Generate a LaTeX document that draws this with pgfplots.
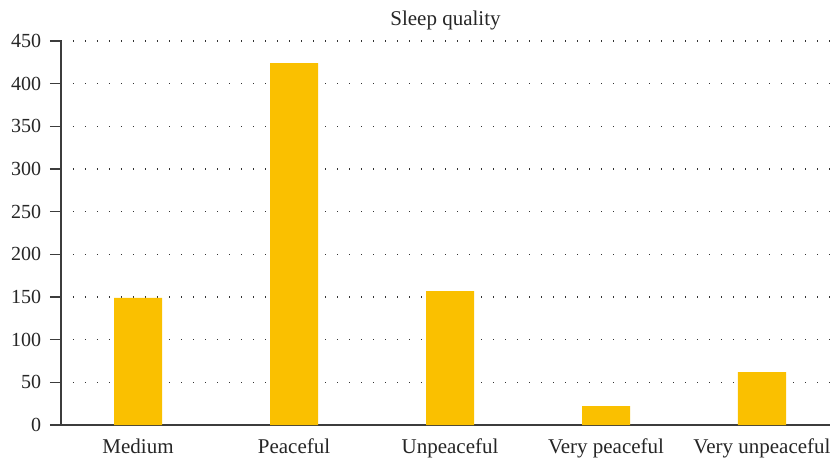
\documentclass[border=0pt]{standalone}
\usepackage{pgfplots}
\pgfplotsset{compat=1.18}
\usepackage{fontspec}
\setmainfont{Liberation Serif}
\definecolor{bargold}{RGB}{250,192,0}
\definecolor{axisgray}{RGB}{60,60,60}
\begin{document}
\fontsize{20bp}{24bp}\selectfont
\begin{tikzpicture}
\path[use as bounding box] (-61bp,-33bp) rectangle (769bp,425bp);
\begin{axis}[
  at={(0,0)}, anchor=south west,
  scale only axis,
  width=769bp, height=384bp,
  xmin=-0.494, xmax=4.436,
  ymin=0, ymax=450,
  ytick={0,50,...,450},
  xtick={0,1,2,3,4},
  xticklabels={Medium,Peaceful,Unpeaceful,Very peaceful,Very unpeaceful},
  major x tick style={draw=none},
  axis x line*=bottom,
  axis y line*=left,
  axis line style={draw=axisgray, line width=1.3bp, -},
  y tick style={draw=axisgray, line width=1.3bp},
  tick align=outside,
  major tick length=11bp,
  ymajorgrids,
  major grid style={draw=black!80, line width=1.1bp, dash pattern=on 1.1bp off 10.9bp},
  /pgf/number format/assume math mode=true,
  tick label style={font=\fontsize{20bp}{24bp}\selectfont, text=black!85},
  yticklabel style={xshift=-2bp},
  xticklabel style={yshift=4bp, font=\fontsize{21bp}{24bp}\selectfont},
  title={Sleep quality},
  title style={at={(0.5,1)}, anchor=south, inner sep=0pt, yshift=5bp, font=\fontsize{21bp}{24bp}\selectfont, text=black!85},
  ybar, bar width=48bp,
  clip=false,
]
\addplot[fill=bargold, draw=none] coordinates {(0,149) (1,424) (2,157) (3,22) (4,62)};
\end{axis}
\end{tikzpicture}
\end{document}
